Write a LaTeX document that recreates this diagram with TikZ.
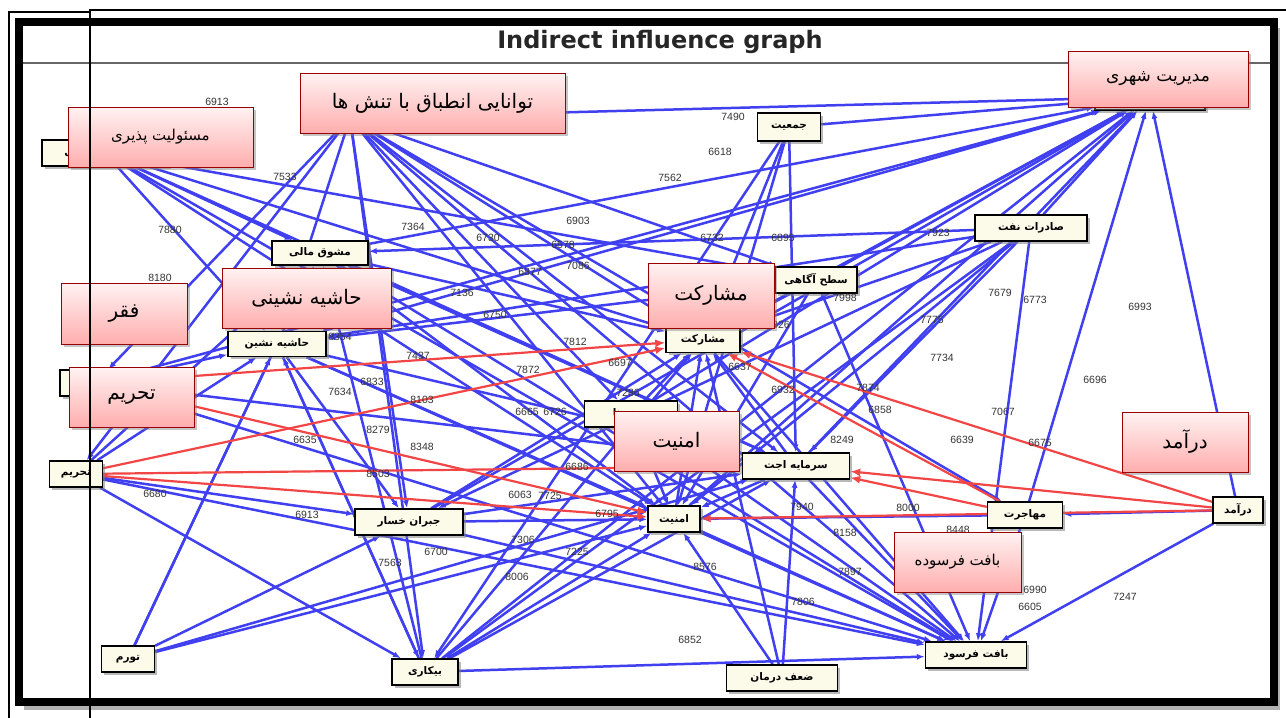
\documentclass[tikz,border=0pt]{standalone}
\usepackage{fontspec}
\setmainfont{Liberation Sans}
\newfontfamily\pfont[Script=Arabic]{DejaVu Sans}
\newfontfamily\titlefont{DejaVu Sans}
\TeXXeTstate=1
\newcommand{\prs}[1]{{\pfont\beginR #1\endR}}
\usetikzlibrary{positioning,shadows,arrows.meta}
\pgfdeclarelayer{bottom}
\pgfdeclarelayer{edges}
\pgfsetlayers{bottom,edges,main}
\definecolor{edgeblue}{RGB}{64,64,240}
\definecolor{edgered}{RGB}{242,70,70}
\definecolor{boxfill}{RGB}{252,250,232}
\tikzset{
    gnode/.style = {rectangle, draw=black, line width=1.4pt, fill=boxfill, inner sep=1pt, minimum height=26, font=\pfont\bfseries\fontsize{10.5}{12}\selectfont, drop shadow={shadow xshift=2.5pt, shadow yshift=-2.5pt, opacity=0.55}},
    callout/.style = {rectangle, draw=red!60!black, line width=1pt, top color=red!5, bottom color=red!32, minimum width=126, minimum height=60, font=\pfont\fontsize{20}{24}\selectfont, drop shadow={shadow xshift=3pt, shadow yshift=-3pt, opacity=0.45}},
    edgeb/.style = {draw=edgeblue, line width=2.5pt, -{Latex[length=8pt,width=6pt]}},
    edger/.style = {draw=edgered, line width=2.2pt, -{Latex[length=10pt,width=8pt]}},
    num/.style = {font=\fontsize{10.5}{11}\selectfont, text=black!80, inner sep=0pt}
}
\begin{document}
\begin{tikzpicture}[x=1pt, y=-1pt]
\useasboundingbox (0,0) rectangle (1286,718);
% screenshot frame and title
\begin{pgfonlayer}{bottom}
\fill[black!30] (24,28) rectangle (1280,710);
\draw[line width=8pt, fill=white] (18.5,22) rectangle (1274,702);
\draw[black!60, line width=1.2pt] (23,63) -- (1270,63);
\node[font=\titlefont\bfseries\fontsize{24}{28}\selectfont, text=black!85] (title) at (660,42) {Indirect influence graph};
\end{pgfonlayer}
% graph nodes
\node[gnode, minimum width=90] (tav) at (350,118) {};
\node[gnode, minimum width=126] (mas) at (105,153) {\prs{مسئولیت پذیری}};
\node[gnode, minimum width=110] (mod) at (1150,97) {\prs{مدیریت شهری}};
\node[gnode, minimum width=70] (faq) at (95,383) {\prs{فقر}};
\node[gnode, minimum width=63, minimum height=28] (jam) at (789,127) {\prs{جمعیت}};
\node[gnode, minimum width=112] (sad) at (1031,228) {\prs{صادرات نفت}};
\node[gnode, minimum width=82] (sat) at (816,280) {\prs{سطح آگاهی}};
\node[gnode, minimum width=74, minimum height=25] (mosh) at (703,340) {\prs{مشارکت}};
\node[gnode, minimum width=93] (ha) at (631,414) {\prs{پیوندها}};
\node[gnode, minimum width=107] (sar) at (796,466) {\prs{سرمایه اجت}};
\node[gnode, minimum width=75] (moh) at (1025,515) {\prs{مهاجرت}};
\node[gnode, minimum width=50] (dar) at (1238,510) {\prs{درآمد}};
\node[gnode, minimum width=101] (baf) at (976,655) {\prs{بافت فرسود}};
\node[gnode, minimum width=52] (amn) at (674,519) {\prs{امنیت}};
\node[gnode, minimum width=111] (zaf) at (782,678) {\prs{ضعف درمان}};
\node[gnode, minimum width=66] (bik) at (425,672) {\prs{بیکاری}};
\node[gnode, minimum width=53] (tor) at (128,659) {\prs{تورم}};
\node[gnode, minimum width=108] (job) at (409,522) {\prs{جبران خسار}};
\node[gnode, minimum width=53] (tah) at (76,474) {\prs{تحریم}};
\node[gnode, minimum width=98, minimum height=25] (hash) at (277,344) {\prs{حاشیه نشین}};
\node[gnode, minimum width=96, minimum height=24] (mash) at (320,253) {\prs{مشوق مالی}};
% influences
\begin{pgfonlayer}{edges}
\foreach \a/\b in {tav/mod, tav/mosh, tav/sar, tav/amn, tav/baf, tav/bik, tav/job, tav/hash, tav/tah, tav/faq, tav/sat, tav/moh, tav/ha,
    mas/mosh, mas/amn, mas/sar, mas/baf, mas/hash, mas/sat, mas/mash,
    jam/amn, jam/sar, jam/mod, jam/mosh, jam/bik,
    sad/mod, sad/mosh, sad/sar, sad/amn, sad/hash, sad/baf, sad/job, sad/bik, sad/mash,
    sat/mod, sat/mosh, sat/amn, sat/baf, sat/hash,
    mash/mod, mash/mosh, mash/amn, mash/sar, mash/baf,
    hash/mod, hash/amn, hash/sar, hash/baf, hash/job, hash/bik,
    faq/mod, faq/hash, faq/sar, faq/baf,
    tah/hash, tah/job, tah/baf, tah/bik, tah/mash,
    tor/hash, tor/mash, tor/amn, tor/sar, tor/job,
    job/amn, job/mosh, job/sar, job/baf, job/mod,
    bik/amn, bik/mosh, bik/sar, bik/baf, bik/hash, bik/mash, bik/mod,
    zaf/amn, zaf/mosh, zaf/sar,
    ha/mosh, ha/amn, ha/baf, ha/mod,
    sar/mosh, sar/amn, sar/baf, sar/mod,
    moh/mod, moh/baf, moh/amn,
    dar/mod, dar/baf, dar/moh,
    amn/mosh, amn/mod, amn/baf,
    mosh/mod, mosh/baf}
    \draw[edgeb] (\a) -- (\b);
\foreach \a/\b in {faq/mosh, tah/mosh, faq/amn, tah/amn, tah/sar, dar/mosh, moh/mosh, moh/sar, dar/amn, dar/sar}
    \draw[edger] (\a) -- (\b);
\end{pgfonlayer}
% weights
\foreach \x/\y/\v [count=\i] in {217/102/6913, 733/117/7490, 720/152/6618, 670/178/7562, 285/177/7533, 170/230/7880,
    413/227/7364, 488/238/6730, 578/221/6903, 712/238/6732, 783/238/6895, 938/233/7923, 563/245/6578,
    530/272/6877, 578/266/7086, 1000/293/7679, 1035/300/6773, 1140/307/6993, 845/298/7998, 932/320/7775,
    462/293/7136, 495/315/6750, 340/337/8354, 575/342/7812, 418/356/7437, 528/370/7872, 620/363/6697,
    740/367/6637, 942/358/7734, 1095/380/6696, 340/392/7634, 372/382/6833, 422/400/8103, 628/393/7286,
    783/390/6932, 868/388/7874, 880/410/6858, 1003/412/7067, 527/412/6665, 555/412/6726, 378/430/8279,
    422/447/8348, 962/440/6639, 1040/443/6675, 842/440/8249, 305/440/6635, 160/278/8180, 155/494/6680,
    307/515/6913, 390/563/7563, 436/552/6700, 523/540/7306, 577/552/7225, 517/577/8006, 705/567/8576,
    803/602/7806, 690/640/6852, 802/507/7940, 908/508/8000, 845/533/8158, 850/572/7897, 958/530/8448,
    1035/590/6990, 1030/607/6605, 1125/597/7247, 607/514/6795, 520/495/6063, 550/496/7725, 577/467/6686,
    378/474/8503, 778/325/6826}
    \node[num] (w\i) at (\x,\y) {\v};
% callouts
\node[callout, minimum width=265] (ctav) at (432.5,103) {\prs{توانایی انطباق با تنش ها}};
\node[callout, minimum width=185, font=\pfont\fontsize{15}{18}\selectfont] (cmas) at (160.5,137) {\prs{مسئولیت پذیری}};
\node[callout, minimum width=180, minimum height=56, font=\pfont\fontsize{17}{20}\selectfont] (cmod) at (1158,79) {\prs{مدیریت شهری}};
\node[callout, minimum height=61] (cfaq) at (124,313.5) {\prs{فقر}};
\node[callout, minimum width=169] (chash) at (306.5,298) {\prs{حاشیه نشینی}};
\node[callout, minimum width=125] (ctah) at (131.5,397) {\prs{تحریم}};
\node[callout, minimum height=65] (cmosh) at (711,295.5) {\prs{مشارکت}};
\node[callout, minimum width=125] (camn) at (676.5,441) {\prs{امنیت}};
\node[callout] (cdar) at (1185,442) {\prs{درآمد}};
\node[callout, minimum width=127, font=\pfont\fontsize{15}{18}\selectfont] (cbaf) at (957.5,562) {\prs{بافت فرسوده}};
% page rules
\draw[line width=1.3pt] (9,718) -- (9,12) -- (90,12);
\draw[line width=1.3pt] (90,718) -- (90,10) -- (1286,10);
\end{tikzpicture}
\end{document}
